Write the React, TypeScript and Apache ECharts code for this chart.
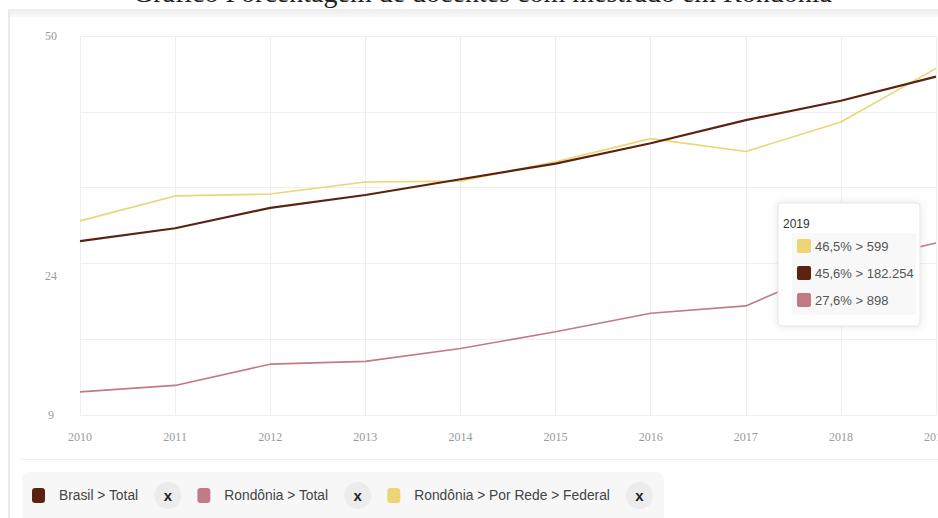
import React, { useEffect, useRef } from "react";
import * as echarts from "echarts";

const chartTitle = "Gráfico Porcentagem de docentes com mestrado em Rondônia";
const years = ["2010", "2011", "2012", "2013", "2014", "2015", "2016", "2017", "2018", "2019"];
const seriesNames = ["Brasil > Total", "Rondônia > Total", "Rondônia > Por Rede > Federal"];
const brasilTotal = [27.8, 29.2, 31.4, 32.8, 34.5, 36.2, 38.4, 40.9, 43.0, 45.6];
const rondoniaTotal = [11.5, 12.2, 14.5, 14.8, 16.2, 18.0, 20.0, 20.8, 25.2, 27.6];
const rondoniaFederal = [30.0, 32.7, 32.9, 34.2, 34.3, 36.4, 38.9, 37.5, 40.7, 46.5];
const counts2019 = [182254, 898, 599];
const seriesColors = ["#5b2210", "#c27a87", "#ecd574"];
const yTickLabels = [9, 24, 50];

const sans = "'Liberation Sans', Arial, sans-serif";
const serif = "'Liberation Serif', 'Times New Roman', serif";

const CHART_W = 960;

function fmtPct(v: number) {
  return v.toFixed(1).replace(".", ",") + "%";
}
function fmtCount(n: number) {
  return String(n).replace(/\B(?=(\d{3})+(?!\d))/g, ".");
}

export default function App() {
  const ref = useRef<HTMLDivElement>(null);
  useEffect(() => {
    if (!ref.current) return;
    const chart = echarts.init(ref.current, undefined, { renderer: "svg" });
    const allData = [brasilTotal, rondoniaTotal, rondoniaFederal];
    const last = years.length - 1;
    const rows = seriesNames
      .map((n, i) => ({ name: n, value: allData[i][last], count: counts2019[i], color: seriesColors[i] }))
      .sort((a, b) => b.value - a.value);

    const TZ = 100;
    const tipElements: any[] = [
      {
        type: "rect",
        z: TZ,
        shape: { x: 778, y: 203, width: 142, height: 123, r: 3 },
        style: { fill: "#fff", stroke: "#e4e4e4", lineWidth: 1, shadowBlur: 8, shadowColor: "rgba(0,0,0,0.10)" },
      },
      {
        type: "rect",
        z: TZ + 1,
        shape: { x: 792, y: 233, width: 124, height: 82 },
        style: { fill: "#f8f8f8" },
      },
      {
        type: "text",
        z: TZ + 2,
        x: 783,
        y: 224,
        style: { text: years[last], font: `12px ${sans}`, fill: "#333", verticalAlign: "middle" },
      },
    ];
    rows.forEach((r, i) => {
      const cy = 246 + i * 27;
      tipElements.push({
        type: "rect",
        z: TZ + 2,
        shape: { x: 797, y: cy - 7, width: 14, height: 14, r: 2 },
        style: { fill: r.color },
      });
      tipElements.push({
        type: "text",
        z: TZ + 2,
        x: 815,
        y: cy,
        style: {
          text: `${fmtPct(r.value)} > ${fmtCount(r.count)}`,
          font: `13px ${sans}`,
          fill: "#555",
          verticalAlign: "middle",
        },
      });
    });

    chart.setOption({
      animation: false,
      backgroundColor: "#fff",
      grid: { left: 80, right: CHART_W - 936, top: 36, bottom: 103, outerBoundsMode: "none" },
      xAxis: {
        type: "category",
        data: years,
        boundaryGap: false,
        axisLine: { show: false },
        axisTick: { show: false },
        axisLabel: { color: "#9a9a9a", fontFamily: serif, fontSize: 12, margin: 16 },
        splitLine: { show: true, lineStyle: { color: "#efefef", width: 1 } },
      },
      yAxis: [
        {
          type: "value",
          min: 9,
          max: 50,
          interval: 1,
          axisLine: { show: false },
          axisTick: { show: false },
          splitLine: { show: false },
          axisLabel: {
            color: "#9a9a9a",
            fontFamily: serif,
            fontSize: 12,
            align: "center",
            margin: 29,
            formatter: (v: number) => (yTickLabels.includes(v) ? String(v) : ""),
          },
        },
        {
          type: "value",
          min: 0,
          max: 5,
          interval: 1,
          position: "left",
          axisLine: { show: false },
          axisTick: { show: false },
          axisLabel: { show: false },
          splitLine: { show: true, lineStyle: { color: "#efefef", width: 1 } },
        },
      ],
      legend: {
        left: 32,
        top: 482,
        padding: 0,
        itemGap: 16,
        itemWidth: 13,
        itemHeight: 15,
        icon: "roundRect",
        data: seriesNames,
        formatter: (name: string) => `{n|${name}}{x|x}`,
        textStyle: {
          rich: {
            n: { fontFamily: sans, fontSize: 13.8, color: "#444", padding: [0, 16, 0, 9] },
            x: {
              width: 27,
              height: 27,
              lineHeight: 27,
              borderRadius: 13.5,
              backgroundColor: "#ececec",
              align: "center",
              fontFamily: sans,
              fontWeight: "bold",
              fontSize: 15,
              color: "#222",
            },
          },
        },
      },
      series: seriesNames.map((n, i) => ({
        name: n,
        type: "line",
        yAxisIndex: 0,
        data: allData[i],
        showSymbol: false,
        symbol: "none",
        lineStyle: { color: seriesColors[i], width: i === 0 ? 2.2 : 1.6 },
        itemStyle: { color: seriesColors[i] },
        z: i === 0 ? 3 : 2,
      })),
      graphic: [
        {
          type: "text",
          x: 133,
          y: -8,
          z: 50,
          style: { text: chartTitle, font: `28px ${serif}`, fill: "#222", verticalAlign: "middle" },
        },
        {
          type: "rect",
          z: 1,
          shape: { x: 8, y: 9, width: CHART_W, height: 8 },
          style: {
            fill: new echarts.graphic.LinearGradient(0, 0, 0, 1, [
              { offset: 0, color: "#ececec" },
              { offset: 1, color: "#f9f9f9" },
            ]),
          },
        },
        {
          type: "line",
          z: 1,
          shape: { x1: 9, y1: 9, x2: 9, y2: 518 },
          style: { stroke: "#ebebeb", lineWidth: 2 },
        },
        {
          type: "line",
          z: 1,
          shape: { x1: 20, y1: 459.5, x2: CHART_W, y2: 459.5 },
          style: { stroke: "#ececec", lineWidth: 1 },
        },
        {
          type: "rect",
          z: 1,
          shape: { x: 22, y: 472, width: 642, height: 52, r: 8 },
          style: { fill: "#f7f7f7" },
        },
        ...tipElements,
      ],
    });
    return () => chart.dispose();
  }, []);
  return (
    <div
      style={{
        position: "fixed",
        left: 0,
        top: 0,
        width: 938,
        height: 518,
        overflow: "hidden",
        background: "#fff",
      }}
    >
      <div ref={ref} style={{ width: CHART_W, height: 518 }} />
    </div>
  );
}
